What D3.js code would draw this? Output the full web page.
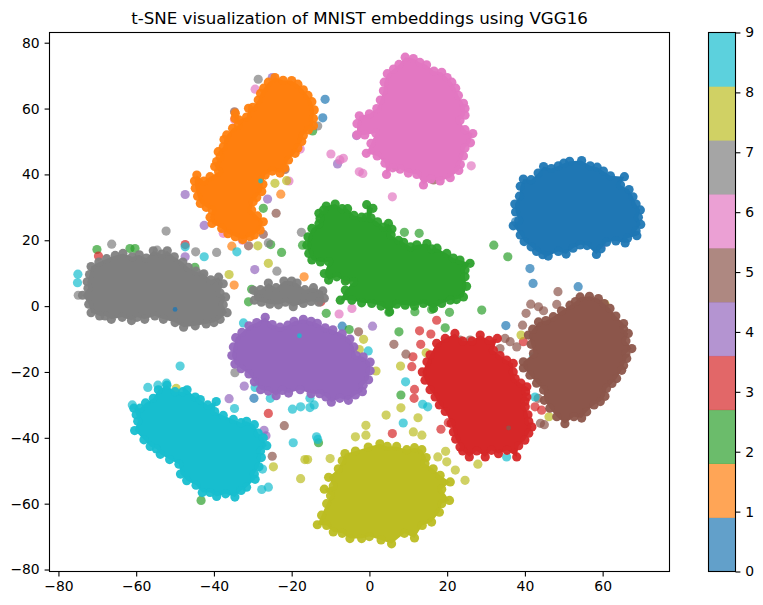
<!DOCTYPE html>
<html>
<head>
<meta charset="utf-8">
<script src="https://cdn.jsdelivr.net/npm/d3@7"></script>
<style>
html, body { margin: 0; padding: 0; background: #fff; }
svg { display: block; font-family: "DejaVu Sans", sans-serif; }
</style>
</head>
<body>
<div id="chart"></div>
<script>
var classTicks = [0, 1, 2, 3, 4, 5, 6, 7, 8, 9];
var xTicks = [-80, -60, -40, -20, 0, 20, 40, 60];
var yTicks = [-80, -60, -40, -20, 0, 20, 40, 60, 80];
var tab10 = ['#1f77b4', '#ff7f0e', '#2ca02c', '#d62728', '#9467bd', '#8c564b', '#e377c2', '#7f7f7f', '#bcbd22', '#17becf'];

// Single markers can't be told apart inside the dense blobs, so each blob is
// kept as the markers readable along its rim, listed in order round the blob.
// The rim is also the closed outline that gets filled in as the blob's core.
var rim0 = [[51.5,44],[54.6,44.2],[56.8,42.6],[58.6,42.2],[60.2,41],[62,39.6],[65.6,39.3],[64.6,36.8],[66.8,35.4],[67.8,33.2],[68.6,31],[69.7,29.2],[69.2,27],[69.8,24.8],[68.6,22.8],[68.8,21.4],[66.4,20.6],[65.8,19.2],[63.4,19.8],[61,19.4],[59.6,17.4],[58.4,15.7],[56,18.4],[54.2,18.6],[52.4,17.6],[50.6,15.8],[48.6,16.6],[46,15.2],[44.6,15.6],[43,16.6],[41.6,18],[39.8,19.6],[38.8,21.6],[37,24.4],[38.4,26],[37.6,28.6],[37.4,31],[38.6,33.4],[38.8,36.4],[39.6,38.6],[41.6,38.4],[43.4,40.4],[44.8,42.4],[46.8,41.8],[48.6,42.6],[50,43.4]];
var rim1 = [[-24.3,69.4],[-22.2,68.6],[-20,68.5],[-18.4,67.4],[-17,65.7],[-15.8,64],[-14.8,62.1],[-14.2,59.6],[-14.4,57],[-14.4,54.8],[-15.7,53.5],[-17,51.8],[-17.4,50],[-18.4,48],[-19.1,46.4],[-20.8,44.4],[-21.8,42],[-23,40.4],[-25,41],[-26.8,39.8],[-27.4,37],[-27.7,34.8],[-29,33],[-29.9,31.7],[-30.3,29.2],[-28.8,27.4],[-27.3,25.6],[-28.1,23.1],[-29.6,21.6],[-30.7,21.1],[-32.6,20.2],[-34.5,21.1],[-36.4,22],[-38,23.6],[-40.5,25.1],[-41,27],[-40.5,29.2],[-42,30],[-43.5,31.2],[-44.2,33.4],[-44.8,35.8],[-45,38],[-44.4,39.8],[-42.6,38],[-41,39.3],[-38.8,40.8],[-39.8,42.4],[-39.3,43.9],[-38.4,45.4],[-38.9,46.9],[-37.6,48.4],[-37.4,50.6],[-36.7,52],[-35.2,54],[-33.7,55],[-34.6,57],[-34.5,58.6],[-33.6,56.6],[-31.6,57.4],[-31.1,60.1],[-30,60.4],[-28.6,62.6],[-28,64.6],[-27.2,66.2],[-26,68]];
var rim2 = [[-11.1,30.4],[-8.8,31],[-7,29.6],[-5.6,29.6],[-4,27.6],[-2,27],[-0.7,27],[-0.7,30.8],[0.9,29.7],[0.4,26.8],[2.1,25.6],[3.6,24],[4.9,25.1],[5.8,23.4],[5.6,21.6],[7.5,20],[8.8,19.4],[10.6,18],[12.2,18.6],[14.8,19],[16,17.4],[17.4,17.6],[19.9,16],[21.6,14.6],[23.3,14],[25.9,13],[24.6,11],[24.6,8.9],[25,6],[24.2,2.8],[22.4,2],[20.8,1.8],[18.6,0.8],[16.5,-0.7],[13.9,0.8],[11.6,0],[9.2,0.3],[7,0.6],[5.2,-1.7],[3,0],[0.6,0.8],[-2,1],[-4.5,1.8],[-7.5,1.8],[-6.2,4.9],[-4.1,7.4],[-6.2,7.6],[-8.4,8.9],[-10.5,7.9],[-11.6,9.9],[-10.5,13.5],[-12.6,13.4],[-14.8,14],[-15.6,16],[-16.1,18.5],[-15.8,21],[-14.8,23.6],[-13,25],[-12.7,26.6],[-13,28.2],[-11.8,29.2]];
var rim3 = [[22,-8.3],[24,-10.6],[26.4,-10.6],[28.5,-8.8],[30.8,-10.4],[32.9,-9.8],[31.9,-13.4],[33.6,-15],[35.3,-16.4],[37,-17.4],[37,-20],[37.5,-22],[39,-23.4],[40.5,-24.5],[40.2,-26],[40.5,-27.6],[40,-29],[40.1,-30.6],[40.8,-33],[41,-35],[41.8,-36.7],[41,-38.6],[40,-40.7],[38.4,-42.4],[37.9,-45.8],[35.4,-43.8],[33.2,-44.8],[31.4,-43.8],[29.8,-45.8],[27.6,-44],[25.7,-45.8],[24,-44],[23.3,-42.8],[22.2,-40.4],[21.6,-38.2],[21,-35.6],[19.5,-32],[18,-30],[16.9,-27.6],[15.6,-25.4],[14.3,-22.5],[13.6,-20],[14.8,-16.9],[15.6,-14.8],[17.3,-11.3],[19.5,-9.8]];
var rim4 = [[-26.8,-3.4],[-25,-5.6],[-23,-6.4],[-21,-5.8],[-19.4,-4.6],[-17,-4],[-15,-4.6],[-13.4,-5.2],[-11.4,-6.6],[-9.4,-7.2],[-7,-8.4],[-5,-10],[-4,-12.4],[-3.4,-15],[-1.6,-15.4],[0.2,-17],[0.2,-19.6],[-0.2,-22.4],[-1.6,-24],[-1.8,-26],[-3.6,-27],[-5.4,-28.6],[-7.6,-28],[-9.8,-29.2],[-11.2,-27.6],[-12.8,-26.6],[-15,-26.6],[-17.8,-25.4],[-20.8,-26.4],[-22.4,-25.6],[-24,-27.2],[-26,-25.8],[-28,-25.4],[-29.6,-23],[-31,-20.6],[-33,-19],[-34.6,-17.6],[-35.4,-15],[-35,-12.4],[-34.4,-9.6],[-32.8,-8],[-31,-6],[-29,-5]];
var rim5 = [[54.2,2.8],[56.6,3],[58.9,2.3],[60.4,0.8],[61.9,-0.7],[63.4,-3],[65.4,-5.3],[65.4,-7],[66.6,-8.3],[66,-10.6],[67.5,-12.9],[66,-14.4],[66.2,-15.9],[65.4,-18],[64.9,-19.5],[63.6,-22],[62.4,-23.5],[61,-25],[60.6,-27.4],[59.4,-29],[57.8,-30],[55.9,-32.1],[54.6,-34],[52.6,-33.6],[50.3,-35.7],[48.2,-33.6],[46.4,-31],[45,-28.6],[44.8,-25.5],[43,-23.4],[41.3,-21],[39.6,-18.8],[39.6,-16.9],[42.2,-14.4],[41.6,-11.6],[40.9,-8.8],[42,-7],[43.5,-4.8],[45.4,-4.4],[47.3,-3.2],[49.4,-1.4],[51.6,0.3],[53,1.4]];
var rim6 = [[9.2,75.6],[11.3,75.2],[13,74],[14.7,73.3],[16.6,71.4],[18.6,71],[20,69.4],[21.2,68],[22.2,66.2],[22.9,64],[24.2,61.6],[24.6,60],[24.6,58],[23.3,56.4],[24.6,53.6],[26.6,52.4],[26,49.6],[24.6,48],[24.2,45.6],[23.4,43],[23,41.2],[20.8,39],[18.2,38],[15.8,38.6],[13.9,36.8],[12.2,40],[10,40.4],[7.9,41.6],[6,42],[4.4,40],[4,43.4],[2,45.6],[-0.8,46.4],[0.4,49.4],[1.6,52.6],[-1.2,52],[-3.2,52],[-3.2,55.4],[-2.6,57.8],[0,58.4],[1.9,60],[2.8,62.6],[3.6,65.4],[3.8,68],[4.6,70.6],[6.2,72],[7.6,73.4]];
var rim7 = [[-73.8,3.3],[-72.4,5.4],[-72.6,7.4],[-72,9.6],[-71.6,12],[-69.6,13.4],[-67.6,14.4],[-65.4,15.4],[-63.4,16],[-61,15],[-59.2,15.6],[-57.4,14.6],[-55.6,16.8],[-53.4,15.8],[-52,16.8],[-50.2,15],[-48,13.4],[-46.6,11.8],[-44.6,10.6],[-42.6,9.8],[-40.8,8],[-38.8,8.8],[-37.6,6.8],[-38.4,4],[-37,2.8],[-37.6,0.4],[-36.6,-2],[-38.4,-4],[-40,-5],[-42,-5.4],[-44.8,-6],[-47.8,-6.4],[-50,-5],[-53,-4],[-55.2,-3],[-57.8,-4],[-59.8,-3.4],[-61.2,-4.4],[-63.6,-3.4],[-66.4,-4],[-68,-3],[-69.4,-3],[-71.6,-2],[-72.2,0.6]];
var rim7b = [[-29.8,4.8],[-28,5],[-26,7],[-24,5.6],[-22,7.6],[-20,7.6],[-18.6,7],[-16.6,5],[-14.4,5.6],[-12,4.6],[-11.6,2.4],[-13,1.2],[-15,1.4],[-17,0.8],[-19.6,-0.2],[-21.6,1.2],[-23.4,0.4],[-25.6,0.6],[-27.8,1.2],[-29.6,1.8]];
var rim8 = [[-6.3,-44.8],[-3.6,-44],[-0.3,-42.8],[2.7,-41.8],[4.6,-42.6],[7,-42.6],[9.6,-43.6],[11.6,-43],[13.5,-43.6],[14.6,-46],[14.3,-47.8],[16.4,-49.4],[18.2,-51.4],[20.8,-53.4],[18.6,-55.6],[20.6,-59],[18.6,-60],[18,-62.6],[16,-65.6],[13.6,-66.6],[11.6,-70.4],[9,-69],[5.7,-72.2],[3,-71],[0,-70],[-2,-70.6],[-5,-70.6],[-7,-69],[-9.3,-68.6],[-11,-66.6],[-13.4,-66.4],[-12.3,-63.5],[-11,-60],[-10,-57.6],[-11.6,-55.6],[-9.3,-54.6],[-10.5,-52],[-8,-49.4],[-7,-47]];
var rim9 = [[-60.6,-31],[-59,-31],[-57.6,-29.4],[-55.6,-28],[-54.3,-25.4],[-52.1,-24],[-50,-26],[-48,-26],[-46.9,-25.4],[-44.8,-27.6],[-43.5,-28.4],[-41.6,-30],[-39.4,-29],[-39.8,-32],[-37.6,-33.2],[-35,-34.4],[-33,-35.4],[-31.6,-35],[-29.6,-36],[-28.6,-38.6],[-27.3,-40],[-26.4,-42.4],[-28,-44],[-27.8,-46],[-28.4,-48.8],[-29.6,-51],[-29.4,-52.6],[-31.6,-55],[-33,-56],[-34.6,-58],[-37,-57],[-39.3,-57.8],[-41,-56.6],[-43,-56.6],[-44.6,-54.4],[-47,-53],[-48.6,-51],[-49,-48],[-51.4,-46.6],[-53.8,-45],[-54.8,-43.4],[-56.4,-42.6],[-58,-40.6],[-60.4,-37.8],[-59.6,-35],[-60,-33]];

// Markers standing clear of the blobs, one list per digit
var stray0 = [[41.3,11.4],[42.1,6.9],[53.7,5.9],[35.1,-5.9],[-11.4,62.8],[-12,57.2],[-7,-6.1],[-29.7,-28],[37.6,25.6]];
var stray1 = [[-22.8,34],[-35.4,18.2],[-16.8,8.9],[-34.8,6.4],[-9.3,9.9]];
var stray2 = [[-70.1,17.2],[-61.6,17.5],[-60.3,17.5],[-44.9,11.8],[-43.3,7.4],[-27.3,29.7],[-25.4,18.7],[-22.6,16.3],[-14.6,53.2],[-30.3,5.1],[-17.2,18.5],[-11.1,-2.2],[-5.2,-7.1],[-13.1,-41.5],[-43.3,-59],[-31.1,1.3],[32,18.5],[35.6,15],[9,22.4],[12.8,22.1],[5,-1.9],[11.7,-1.7],[20.6,-1.9],[28.9,-1.2],[19.5,-6.6],[7.6,-7.8],[8.1,-27],[16,-1]];
var stray3 = [[-47.4,18.7],[-5.8,8.1],[-26,-32.6],[-12.5,1.3],[-69.7,15.2],[17.3,-4.3],[12.9,-7.5],[15.8,-8.5],[13.2,-11.6],[11.2,-15.4],[10.9,-18.4],[11.6,-25.3],[11.5,-28],[5.9,-38.7],[18.4,-37.4],[20.3,-35.4],[39.6,-10.8],[42.6,-30.6],[44.3,-31.6]];
var stray4 = [[-47.4,33.9],[-26.2,32.5],[-42.5,24.5],[-29.5,11.1],[-47.4,15],[-8.2,43.2],[-36.1,-28.1],[-27.1,-37.7],[-26.6,-39.4],[-32.2,-24.3],[0.8,-6.1],[-3.3,51.8],[-25,69.4]];
var stray5 = [[-31.1,18.3],[-27.3,21.8],[-24,28.2],[-21.7,41.5],[-2.8,-7.8],[-21.9,-36.3],[-25,-45.6],[48.5,4.4],[6.8,42.4],[16.5,38.3],[6.3,-11.6],[9.4,-14.6],[-34.7,59],[40.3,-2.2],[41.5,0.6],[43.5,-0.2],[44.8,-1.4],[48.2,0.5],[39.4,-5.8],[36.2,-10.8],[37.9,-12.4],[33.6,-12.9],[34.9,-9.8],[25.9,-10.3],[23.3,-10.3],[44,-35.6],[45,-36],[43.4,-28]];
var stray6 = [[5.9,33.2],[26.2,42.6],[-9.9,46.2],[-6.7,44.9],[-2.6,40.8],[-1.7,40.3],[-7.8,-2.4],[-4.5,-0.7],[-17.8,47.7],[-20.7,38],[-29.4,65.9],[-34.7,56.7],[-37.6,22.1],[-32.7,20],[59.8,18.7],[-7.6,44.4]];
var stray7 = [[-28.6,68.9],[-36.7,46.9],[-13.3,54.7],[-17.5,22.4],[-52.3,22.8],[-66.3,18.8],[-39.3,16.3],[-44.7,16.5],[-23.8,10.6],[-26,19.2],[-74.9,3.3],[-34.6,-20.2],[-54.6,17],[-43,9.6]];
var stray8 = [[-1.5,-10.1],[-2.6,-13.2],[1.7,-19.7],[-49.7,-25],[-24.7,-48.8],[-16.6,-46.6],[-17.7,-52.4],[-0.9,-36.2],[-3.6,-39.7],[-0.9,-39.2],[-10.1,-46.3],[-36.1,9.6],[-28.7,18.3],[-26,13],[-24.3,37.3],[-21.3,38.1],[14.6,-14.2],[8,-18.2],[8.1,-30.9],[4.3,-33.1],[12.5,-33.9],[39,-8.8],[46.2,-33.6],[27.9,-48],[24.6,-52.9],[22.1,-49.8],[19.6,-44.1],[19.9,-47.3],[17.6,-45.8],[60.6,0.6],[11.3,-38.2],[13.5,-39.2],[-15.9,-46.6]];
var stray9 = [[-75,9.7],[-75.1,7.1],[-42.5,15],[-47.4,18],[-34.1,16.5],[-32.4,-5.1],[-48.7,-18.2],[-29.4,-24.7],[-25.5,-28],[-34.7,-31.1],[-19.8,-31.3],[-17.7,-30.6],[-15.3,-30.8],[-14.2,-30],[-15.3,-28],[-0.3,-13.6],[-13.6,-39.7],[-13.3,-40.5],[-19.6,-41.5],[-27.7,-55.7],[-26,-55],[-27.5,-49.5],[9.3,-23],[13.7,-29.8],[15,-30.6],[8.7,-35.5],[35.3,-45.8],[42.2,-15.4],[42.6,-27.6],[-57,-24.7],[-54.4,-24],[-52.2,-23.4],[-61,-30]];

// Markers almost hidden inside a blob: only a sliver of each shows
var speckDigits = [0, 9, 9, 5];
var speckValues = [[-50,-1],[-18,-9],[-28,38],[35.8,-37]];

var rims = [
    { digit: 0, points: rim0 }, { digit: 1, points: rim1 }, { digit: 2, points: rim2 },
    { digit: 5, points: rim5 }, { digit: 3, points: rim3 }, { digit: 4, points: rim4 },
    { digit: 6, points: rim6 }, { digit: 7, points: rim7 }, { digit: 7, points: rim7b },
    { digit: 8, points: rim8 }, { digit: 9, points: rim9 }
];
var strays = [stray0, stray1, stray2, stray3, stray4, stray5, stray6, stray7, stray8, stray9];

var svg = d3.select('#chart').append('svg')
    .attr('width', 763)
    .attr('height', 605);

var x = d3.scaleLinear().domain([-82.3, 77.2]).range([49.5, 669.5]);
var y = d3.scaleLinear().domain([-80.6, 83.1]).range([571.5, 32.5]);
var bar = d3.scaleLinear().domain([0, 9]).range([571.5, 32.5]);

var outline = d3.line()
    .x(function(d) { return x(d[0]); })
    .y(function(d) { return y(d[1]); })
    .curve(d3.curveLinearClosed);

var marks = svg.append('g');

function dots(points, digit, r, alpha) {
    marks.append('g').selectAll('circle')
        .data(points)
        .enter().append('circle')
        .attr('cx', function(d) { return x(d[0]); })
        .attr('cy', function(d) { return y(d[1]); })
        .attr('r', r)
        .attr('fill', tab10[digit])
        .attr('fill-opacity', alpha);
}

// strays go under the blobs, the rim markers stand for several stacked ones
strays.forEach(function(s, i) { dots(s, i, 4.6, 0.7); });

rims.forEach(function(r) {
    marks.append('path')
        .attr('d', outline(r.points))
        .attr('fill', tab10[r.digit]);
    dots(r.points, r.digit, 4.6, 0.95);
});

speckValues.forEach(function(p, i) { dots([p], speckDigits[i], 2.4, 0.8); });

function styleAxis(g) {
    g.selectAll('text').attr('font-size', 13.9).attr('font-family', '"DejaVu Sans", sans-serif').attr('fill', '#000');
    g.selectAll('line').attr('stroke', '#000').attr('stroke-width', 1.1);
    g.select('.domain').remove();
}

var axisOpts = function(a) { return a.tickSizeInner(4.9).tickSizeOuter(0).tickPadding(4.9); };

svg.append('g')
    .attr('transform', 'translate(0,571.5)')
    .call(axisOpts(d3.axisBottom(x).tickValues(xTicks)))
    .call(styleAxis);

svg.append('g')
    .attr('transform', 'translate(49.5,0)')
    .call(axisOpts(d3.axisLeft(y).tickValues(yTicks)))
    .call(styleAxis);

svg.append('rect')
    .attr('x', 49.5).attr('y', 32.5)
    .attr('width', 620).attr('height', 539)
    .attr('fill', 'none')
    .attr('stroke', '#000')
    .attr('stroke-width', 1.1);

svg.append('text')
    .attr('x', 359.5)
    .attr('y', 24)
    .attr('text-anchor', 'middle')
    .attr('font-size', 16.67)
    .text('t-SNE visualization of MNIST embeddings using VGG16');

// colorbar: ten equal bands, ticks spread over the full length
var band = d3.scaleBand().domain(classTicks).range([571.5, 32.5]);

svg.append('g').selectAll('rect')
    .data(classTicks)
    .enter().append('rect')
    .attr('x', 708.5)
    .attr('y', function(d) { return band(d); })
    .attr('width', 27)
    .attr('height', band.bandwidth() + 0.3)
    .attr('fill', function(d) { return tab10[d]; })
    .attr('fill-opacity', 0.7);

svg.append('g')
    .attr('transform', 'translate(735.5,0)')
    .call(axisOpts(d3.axisRight(bar).tickValues(classTicks).tickFormat(d3.format('d'))))
    .call(styleAxis);

svg.append('rect')
    .attr('x', 708.5).attr('y', 32.5)
    .attr('width', 27).attr('height', 539)
    .attr('fill', 'none')
    .attr('stroke', '#000')
    .attr('stroke-width', 1.1);
</script>
</body>
</html>
